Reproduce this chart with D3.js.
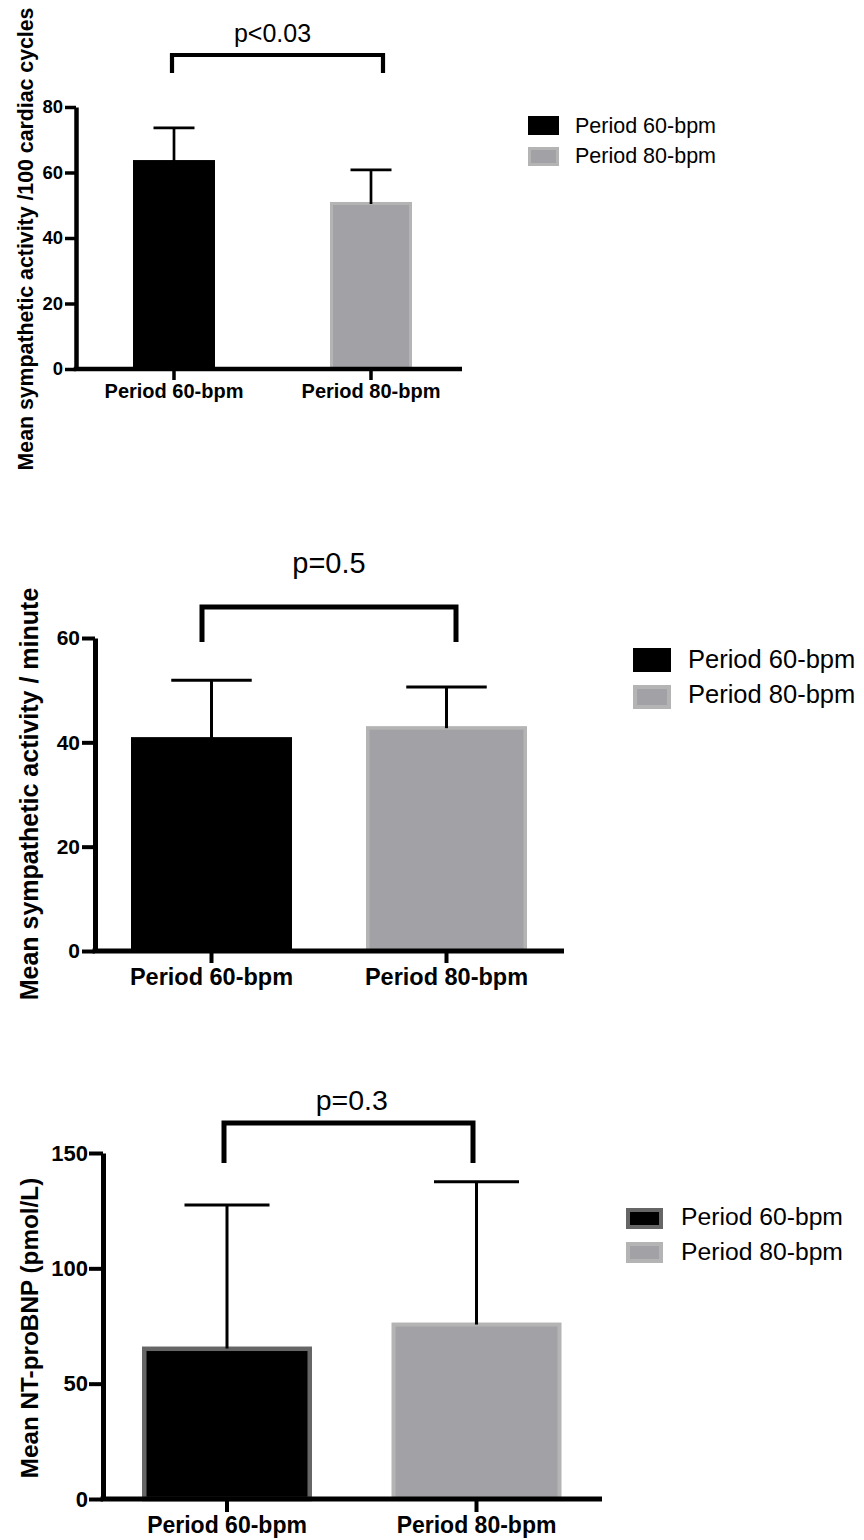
<!DOCTYPE html>
<html>
<head>
<meta charset="utf-8">
<script src="https://cdn.jsdelivr.net/npm/d3@7"></script>
<style>
  body { margin: 0; background: #fff; }
  svg { display: block; font-family: "Liberation Sans", Arial, Helvetica, sans-serif; }
</style>
</head>
<body>
<div id="chart"></div>
<script>
// data
const categories = ["Period 60-bpm", "Period 80-bpm"];

const perCycleMean = [63.8, 51.0];
const perCycleSD = [9.8, 9.8];
const perCycleTicks = [0, 20, 40, 60, 80];

const perMinuteMean = [41.0, 43.1];
const perMinuteSD = [10.9, 7.5];
const perMinuteTicks = [0, 20, 40, 60];

const bnpMean = [66.1, 76.5];
const bnpSD = [61.4, 61.0];
const bnpTicks = [0, 50, 100, 150];

const yTitles = ["Mean sympathetic activity /100 cardiac cycles", "Mean sympathetic activity / minute", "Mean NT-proBNP (pmol/L)"];
const pLabels = ["p<0.03", "p=0.5", "p=0.3"];

const fillColors = ["#000000", "#a2a2a6"];

const svg = d3.select("#chart").append("svg")
    .attr("width", 864)
    .attr("height", 1540);

svg.append("rect").attr("width", 864).attr("height", 1540).attr("fill", "#fff");

function drawPanel(cfg) {
    let L = cfg.layout;
    let g = svg.append("g");

    let step = L.c2 - L.c1;
    let pad = 1 - L.bw / step;
    let x = d3.scaleBand()
        .domain(categories)
        .range([L.c1 - step / 2, L.c2 + step / 2])
        .paddingInner(pad)
        .paddingOuter(pad / 2);
    let y = d3.scaleLinear()
        .domain([0, d3.max(cfg.ticks)])
        .range([L.yZero, L.yTop]);

    let rows = categories.map((c, i) => ({cat: c, mean: cfg.mean[i], err: cfg.err[i], i: i}));

    // bars, stroke kept inside the band
    g.selectAll("rect.bar").data(rows).enter().append("rect")
        .attr("class", "bar")
        .attr("x", d => x(d.cat) + L.barStroke[d.i] / 2)
        .attr("width", d => x.bandwidth() - L.barStroke[d.i])
        .attr("y", d => y(d.mean) + L.barStroke[d.i] / 2)
        .attr("height", d => y(0) - y(d.mean) - L.barStroke[d.i] / 2)
        .attr("fill", d => fillColors[d.i])
        .attr("stroke", d => L.strokeColors[d.i])
        .attr("stroke-width", d => L.barStroke[d.i]);

    // error bars (upper only)
    let eb = g.selectAll("g.err").data(rows).enter().append("g").attr("class", "err");
    eb.append("line")
        .attr("x1", d => x(d.cat) + x.bandwidth() / 2)
        .attr("x2", d => x(d.cat) + x.bandwidth() / 2)
        .attr("y1", d => y(d.mean) + 2)
        .attr("y2", d => y(d.mean + d.err))
        .attr("stroke", "#000").attr("stroke-width", L.errWidth);
    eb.append("line")
        .attr("x1", d => x(d.cat) + x.bandwidth() / 4)
        .attr("x2", d => x(d.cat) + x.bandwidth() * 3 / 4)
        .attr("y1", d => y(d.mean + d.err))
        .attr("y2", d => y(d.mean + d.err))
        .attr("stroke", "#000").attr("stroke-width", L.errWidth);

    // y axis
    let yAxis = g.append("g")
        .attr("transform", `translate(${L.x0},0)`)
        .call(d3.axisLeft(y).tickValues(cfg.ticks).tickFormat(d3.format("d"))
            .tickSize(L.tickLen).tickSizeOuter(0).tickPadding(L.tickPad));
    yAxis.select(".domain").attr("stroke-width", L.axisWidth);
    yAxis.selectAll(".tick line").attr("stroke-width", L.axisWidth - 1);
    yAxis.selectAll(".tick text")
        .attr("font-size", L.tickFont)
        .attr("font-weight", "bold")
        .attr("font-family", "Liberation Sans, Arial, sans-serif")
        .attr("fill", "#000");

    // x axis
    let xAxis = g.append("g")
        .attr("transform", `translate(0,${L.yZero})`)
        .call(d3.axisBottom(x).tickSize(L.xTickLen).tickSizeOuter(0));
    xAxis.select(".domain").remove();
    xAxis.selectAll(".tick line").attr("stroke-width", L.axisWidth - 1);
    xAxis.selectAll(".tick text")
        .attr("dy", null)
        .attr("y", L.xLabelBase - L.yZero)
        .attr("font-size", L.xFont)
        .attr("font-weight", "bold")
        .attr("font-family", "Liberation Sans, Arial, sans-serif")
        .attr("fill", "#000");
    g.append("line")
        .attr("x1", L.x0 - L.axisWidth / 2).attr("x2", L.xEnd)
        .attr("y1", L.yZero).attr("y2", L.yZero)
        .attr("stroke", "#000").attr("stroke-width", L.axisWidth);

    // y title
    g.append("text")
        .attr("transform", `translate(${L.titleX},${L.titleY}) rotate(-90)`)
        .attr("text-anchor", "middle")
        .attr("font-size", L.titleFont)
        .attr("font-weight", "bold")
        .text(cfg.title);

    // significance bracket
    g.append("path")
        .attr("d", `M${L.brX1},${L.brLeg} V${L.brTop} H${L.brX2} V${L.brLeg}`)
        .attr("fill", "none")
        .attr("stroke", "#000")
        .attr("stroke-width", L.brWidth)
        .attr("stroke-linejoin", "miter");
    g.append("text")
        .attr("x", (L.c1 + L.c2) / 2)
        .attr("y", L.pBase)
        .attr("text-anchor", "middle")
        .attr("font-size", L.pFont)
        .text(cfg.p);

    // legend
    let lg = g.selectAll("g.leg").data(rows).enter().append("g").attr("class", "leg");
    lg.append("rect")
        .attr("x", d => L.legX + L.legStroke[d.i] / 2)
        .attr("y", d => L.legY[d.i] + L.legStroke[d.i] / 2)
        .attr("width", d => L.legW - L.legStroke[d.i])
        .attr("height", d => L.legH - L.legStroke[d.i])
        .attr("fill", d => fillColors[d.i])
        .attr("stroke", d => L.strokeColors[d.i])
        .attr("stroke-width", d => L.legStroke[d.i]);
    lg.append("text")
        .attr("x", L.legTextX)
        .attr("y", d => L.legBase[d.i])
        .attr("font-size", L.legFont)
        .text(d => d.cat);
}

drawPanel({
    mean: perCycleMean, err: perCycleSD, ticks: perCycleTicks, title: yTitles[0], p: pLabels[0],
    layout: {
        x0: 76, xEnd: 462, yTop: 107, yZero: 369, c1: 174, c2: 371, bw: 82,
        barStroke: [2, 3], strokeColors: ["#000000", "#b4b4b4"], errWidth: 2.7,
        axisWidth: 4.5, tickLen: 11, tickPad: 2, tickFont: 18.5, xTickLen: 11, xFont: 20, xLabelBase: 398,
        titleX: 33, titleY: 239, titleFont: 21.3,
        brX1: 172, brX2: 383, brTop: 55, brLeg: 73, brWidth: 4.2, pBase: 42, pFont: 25,
        legX: 528, legY: [116, 147], legW: 31, legH: 19, legStroke: [1, 3], legTextX: 575, legBase: [133, 163], legFont: 21.5
    }
});

drawPanel({
    mean: perMinuteMean, err: perMinuteSD, ticks: perMinuteTicks, title: yTitles[1], p: pLabels[1],
    layout: {
        x0: 95, xEnd: 564, yTop: 638, yZero: 951, c1: 211.5, c2: 446.5, bw: 161,
        barStroke: [2, 3.5], strokeColors: ["#000000", "#b4b4b4"], errWidth: 3,
        axisWidth: 5, tickLen: 13, tickPad: 2, tickFont: 21, xTickLen: 12, xFont: 23.5, xLabelBase: 985,
        titleX: 38, titleY: 794, titleFont: 25,
        brX1: 202, brX2: 456, brTop: 607, brLeg: 642, brWidth: 5, pBase: 573, pFont: 29,
        legX: 633, legY: [648, 685], legW: 38, legH: 24, legStroke: [1, 4], legTextX: 688, legBase: [668, 703], legFont: 25.5
    }
});

drawPanel({
    mean: bnpMean, err: bnpSD, ticks: bnpTicks, title: yTitles[2], p: pLabels[2],
    layout: {
        x0: 103, xEnd: 602, yTop: 1153, yZero: 1499, c1: 227, c2: 476.5, bw: 170,
        barStroke: [4.5, 4], strokeColors: ["#666666", "#b4b4b4"], errWidth: 3,
        axisWidth: 5, tickLen: 14, tickPad: 1, tickFont: 22, xTickLen: 13, xFont: 23, xLabelBase: 1533,
        titleX: 38, titleY: 1328, titleFont: 24.3,
        brX1: 224, brX2: 473, brTop: 1123, brLeg: 1163, brWidth: 5, pBase: 1110, pFont: 28.5,
        legX: 626, legY: [1208, 1242], legW: 37, legH: 21, legStroke: [4, 4], legTextX: 681, legBase: [1225, 1260], legFont: 24.7
    }
});
</script>
</body>
</html>
